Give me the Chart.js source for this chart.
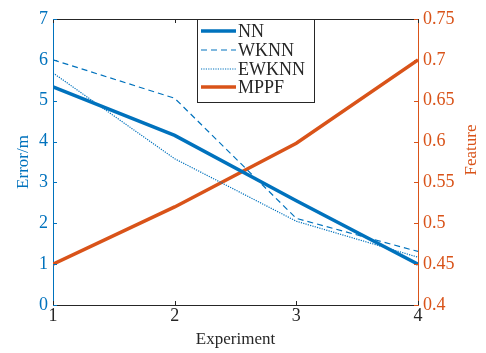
<!DOCTYPE html>
<html><head><meta charset="utf-8">
<script src="https://cdn.jsdelivr.net/npm/chart.js@4/dist/chart.umd.min.js"></script>
<style>html,body{margin:0;padding:0;background:#fff}#w{width:486px;height:353px;position:relative}</style>
</head><body><div id="w"><canvas id="c" width="486" height="353"></canvas></div>
<script>
const experiments = [1, 2, 3, 4];
const nnError = [5.34, 4.15, 2.55, 1.0];
const wknnError = [6.0, 5.06, 2.12, 1.31];
const ewknnError = [5.68, 3.58, 2.05, 1.17];
const mppfFeature = [0.45, 0.52, 0.598, 0.70];
const xTicks = [1, 2, 3, 4];
const leftTicks = [0, 1, 2, 3, 4, 5, 6, 7];
const rightTicks = [0.4, 0.45, 0.5, 0.55, 0.6, 0.65, 0.7, 0.75];
const seriesNames = ['NN', 'WKNN', 'EWKNN', 'MPPF'];

const BLUE = '#0072BD', ORANGE = '#D95319', DARK = '#262626';
const FONT = "'Liberation Serif', 'Times New Roman', serif";
Chart.defaults.font.family = FONT;
const pts = (ys) => experiments.map((x, i) => ({x, y: ys[i]}));

const framePlugin = {
  id: 'frame',
  afterDatasetsDraw(chart) {
    const ctx = chart.ctx, a = chart.chartArea;
    const sx = chart.scales.x, sy = chart.scales.y, sy1 = chart.scales.y1;
    ctx.save();
    ctx.strokeStyle = DARK; ctx.lineWidth = 1;
    ctx.beginPath(); ctx.moveTo(a.left, a.top + 0.5); ctx.lineTo(a.right, a.top + 0.5); ctx.stroke();
    const tl = 4;
    xTicks.forEach(v => {
      const px = Math.round(sx.getPixelForValue(v)) + 0.5;
      ctx.beginPath();
      ctx.moveTo(px, a.bottom); ctx.lineTo(px, a.bottom - tl);
      ctx.moveTo(px, a.top); ctx.lineTo(px, a.top + tl);
      ctx.stroke();
    });
    ctx.strokeStyle = BLUE;
    leftTicks.forEach(v => {
      const py = Math.round(sy.getPixelForValue(v)) + 0.5;
      ctx.beginPath(); ctx.moveTo(a.left, py); ctx.lineTo(a.left + tl, py); ctx.stroke();
    });
    ctx.strokeStyle = ORANGE;
    rightTicks.forEach(v => {
      const py = Math.round(sy1.getPixelForValue(v)) + 0.5;
      ctx.beginPath(); ctx.moveTo(a.right, py); ctx.lineTo(a.right - tl, py); ctx.stroke();
    });
    ctx.fillStyle = ORANGE;
    ctx.font = '17px ' + FONT;
    ctx.textAlign = 'center'; ctx.textBaseline = 'middle';
    ctx.translate(472, 150); ctx.rotate(-Math.PI / 2);
    ctx.fillText('Feature', 0, 0);
    ctx.restore();

    ctx.save();
    const bx = 197.5, by = a.top + 0.5, bw = 117, bh = 83;
    ctx.fillStyle = '#fff'; ctx.fillRect(bx, by, bw, bh);
    ctx.strokeStyle = DARK; ctx.lineWidth = 1; ctx.strokeRect(bx, by, bw, bh);
    const rows = [31, 50, 69, 87];
    chart.data.datasets.forEach((ds, i) => {
      const y = rows[i];
      ctx.strokeStyle = ds.borderColor; ctx.lineWidth = ds.borderWidth;
      ctx.setLineDash(ds.borderDash || []);
      ctx.beginPath(); ctx.moveTo(201, y); ctx.lineTo(236, y); ctx.stroke();
      ctx.setLineDash([]);
      ctx.fillStyle = DARK; ctx.font = '18px ' + FONT;
      ctx.textAlign = 'left'; ctx.textBaseline = 'middle';
      ctx.fillText(ds.label, 238, y + 1);
    });
    ctx.restore();
  }
};

new Chart(document.getElementById('c'), {
  type: 'line',
  data: {
    datasets: [
      {label: seriesNames[0], data: pts(nnError), yAxisID: 'y', borderColor: BLUE, borderWidth: 3.5, pointRadius: 0, tension: 0},
      {label: seriesNames[1], data: pts(wknnError), yAxisID: 'y', borderColor: BLUE, borderWidth: 1.2, borderDash: [6, 4], pointRadius: 0, tension: 0},
      {label: seriesNames[2], data: pts(ewknnError), yAxisID: 'y', borderColor: BLUE, borderWidth: 1.2, borderDash: [1.2, 1.2], pointRadius: 0, tension: 0},
      {label: seriesNames[3], data: pts(mppfFeature), yAxisID: 'y1', borderColor: ORANGE, borderWidth: 3.5, pointRadius: 0, tension: 0}
    ]
  },
  options: {
    responsive: false, devicePixelRatio: 1, animation: false,
    layout: {padding: {top: 19, left: 0, right: 0, bottom: 0}},
    plugins: {legend: {display: false}, tooltip: {enabled: false}},
    scales: {
      x: {
        type: 'linear', min: 1, max: 4,
        afterBuildTicks: s => { s.ticks = xTicks.map(v => ({value: v})); },
        afterFit: s => { s.height = 48; },
        ticks: {color: DARK, font: {family: FONT, size: 18}, padding: 0, callback: v => String(v)},
        grid: {drawOnChartArea: false, drawTicks: false},
        border: {color: DARK, width: 1},
        title: {display: true, text: 'Experiment', color: DARK, font: {family: FONT, size: 17}, padding: {top: 0, bottom: 3}}
      },
      y: {
        position: 'left', min: 0, max: 7,
        afterBuildTicks: s => { s.ticks = leftTicks.map(v => ({value: v})); },
        afterFit: s => { s.width = 53; },
        ticks: {color: BLUE, font: {family: FONT, size: 18}, padding: 5, callback: v => String(v)},
        grid: {drawOnChartArea: false, drawTicks: false},
        border: {color: BLUE, width: 1},
        title: {display: true, text: 'Error/m', color: BLUE, font: {family: FONT, size: 17}, padding: {top: 13, bottom: 0}}
      },
      y1: {
        position: 'right', min: 0.4, max: 0.75,
        afterBuildTicks: s => { s.ticks = rightTicks.map(v => ({value: v})); },
        afterFit: s => { s.width = 68; },
        ticks: {color: ORANGE, font: {family: FONT, size: 18}, padding: 5, callback: v => String(+(+v).toFixed(2))},
        grid: {drawOnChartArea: false, drawTicks: false},
        border: {color: ORANGE, width: 1}
      }
    }
  },
  plugins: [framePlugin]
});
</script>
</body></html>
